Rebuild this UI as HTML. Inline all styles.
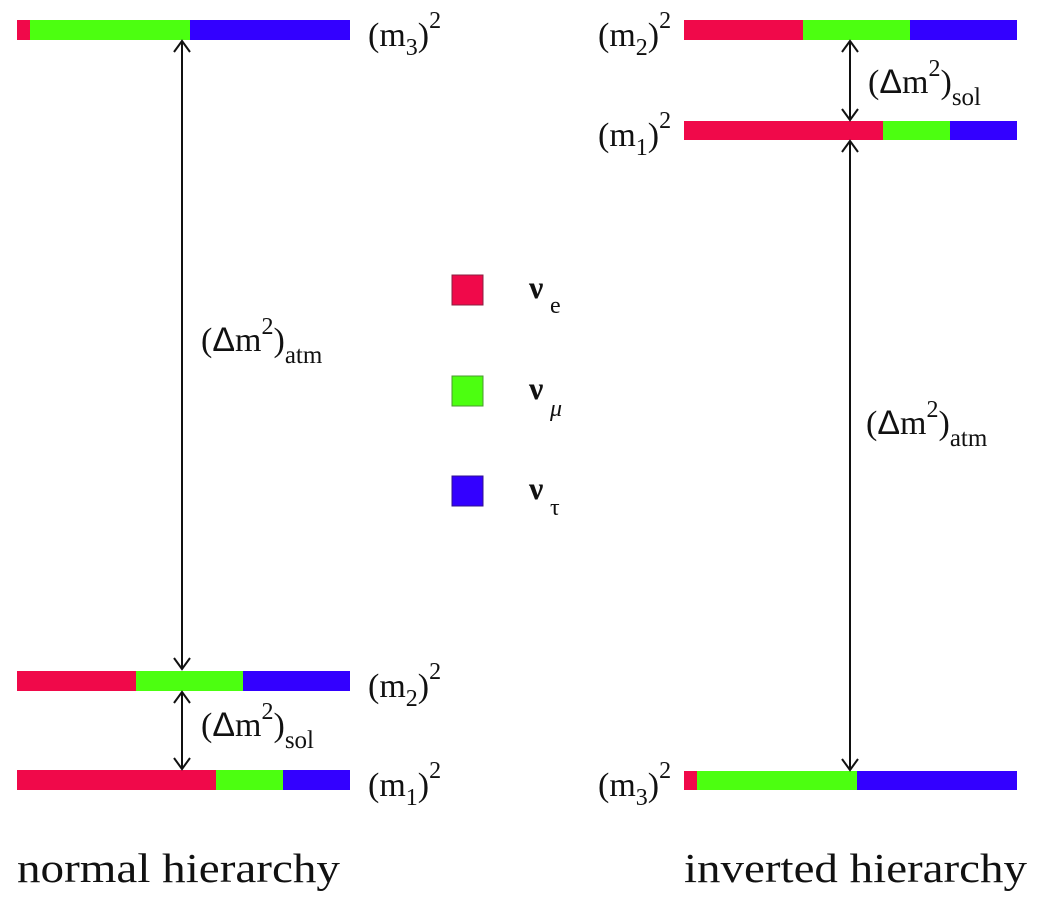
<!DOCTYPE html>
<html><head><meta charset="utf-8"><style>
html,body{margin:0;padding:0;background:#fff;}
svg{display:block;}
text{font-family:"Liberation Serif",serif;fill:#111;}
</style></head><body>
<svg width="1040" height="900" viewBox="0 0 1040 900" xmlns="http://www.w3.org/2000/svg">
<defs>
<g id="ah"><path d="M-8,11 L0,0 L8,11" fill="none" stroke="#111" stroke-width="2"/></g>
</defs>
<rect x="17" y="20" width="13" height="20" fill="#f0094a"/>
<rect x="30" y="20" width="160" height="20" fill="#4cff10"/>
<rect x="190" y="20" width="160" height="20" fill="#3300ff"/>
<rect x="17" y="671" width="119" height="20" fill="#f0094a"/>
<rect x="136" y="671" width="107" height="20" fill="#4cff10"/>
<rect x="243" y="671" width="107" height="20" fill="#3300ff"/>
<rect x="17" y="770" width="199" height="20" fill="#f0094a"/>
<rect x="216" y="770" width="67" height="20" fill="#4cff10"/>
<rect x="283" y="770" width="67" height="20" fill="#3300ff"/>
<rect x="684" y="20" width="119" height="20" fill="#f0094a"/>
<rect x="803" y="20" width="107" height="20" fill="#4cff10"/>
<rect x="910" y="20" width="107" height="20" fill="#3300ff"/>
<rect x="684" y="121" width="199" height="19" fill="#f0094a"/>
<rect x="883" y="121" width="67" height="19" fill="#4cff10"/>
<rect x="950" y="121" width="67" height="19" fill="#3300ff"/>
<rect x="684" y="771" width="13" height="19" fill="#f0094a"/>
<rect x="697" y="771" width="160" height="19" fill="#4cff10"/>
<rect x="857" y="771" width="160" height="19" fill="#3300ff"/>
<rect x="452" y="275" width="31" height="30" fill="#f0094a" stroke="#8a2040" stroke-width="1"/>
<rect x="452" y="376" width="31" height="30" fill="#4cff10" stroke="#4a9a30" stroke-width="1"/>
<rect x="452" y="476" width="31" height="30" fill="#3300ff" stroke="#301090" stroke-width="1"/>
<text x="529" y="298" font-size="32" font-weight="bold">ν</text><text x="550" y="313" font-size="24">e</text>
<text x="529" y="399" font-size="32" font-weight="bold">ν</text><text x="550" y="416" font-size="24" font-style="italic">μ</text>
<text x="529" y="499" font-size="32" font-weight="bold">ν</text><text x="550" y="515" font-size="24">τ</text>
<g stroke="#111" stroke-width="2">
<line x1="182" y1="41" x2="182" y2="669"/>
<line x1="182" y1="692" x2="182" y2="769"/>
<line x1="850" y1="41" x2="850" y2="120"/>
<line x1="850" y1="141" x2="850" y2="770"/>
</g>
<use href="#ah" transform="translate(182,41)"/>
<use href="#ah" transform="translate(182,669) rotate(180)"/>
<use href="#ah" transform="translate(182,692)"/>
<use href="#ah" transform="translate(182,769) rotate(180)"/>
<use href="#ah" transform="translate(850,41)"/>
<use href="#ah" transform="translate(850,120) rotate(180)"/>
<use href="#ah" transform="translate(850,141)"/>
<use href="#ah" transform="translate(850,770) rotate(180)"/>
<g font-size="34">
<text x="368" y="46">(m<tspan font-size="24" dy="9">3</tspan><tspan dy="-9">)</tspan><tspan font-size="24" dy="-18">2</tspan></text>
<text x="368" y="697">(m<tspan font-size="24" dy="9">2</tspan><tspan dy="-9">)</tspan><tspan font-size="24" dy="-18">2</tspan></text>
<text x="368" y="796">(m<tspan font-size="24" dy="9">1</tspan><tspan dy="-9">)</tspan><tspan font-size="24" dy="-18">2</tspan></text>
<text x="598" y="46">(m<tspan font-size="24" dy="9">2</tspan><tspan dy="-9">)</tspan><tspan font-size="24" dy="-18">2</tspan></text>
<text x="598" y="146">(m<tspan font-size="24" dy="9">1</tspan><tspan dy="-9">)</tspan><tspan font-size="24" dy="-18">2</tspan></text>
<text x="598" y="796">(m<tspan font-size="24" dy="9">3</tspan><tspan dy="-9">)</tspan><tspan font-size="24" dy="-18">2</tspan></text>
</g>
<g font-size="34">
<text x="201" y="351">(<tspan font-family="Liberation Sans">Δ</tspan>m<tspan font-size="24" dy="-17">2</tspan><tspan dy="17">)</tspan><tspan font-size="25" dy="12">atm</tspan></text>
<text x="201" y="736">(<tspan font-family="Liberation Sans">Δ</tspan>m<tspan font-size="24" dy="-17">2</tspan><tspan dy="17">)</tspan><tspan font-size="25" dy="12">sol</tspan></text>
<text x="868" y="93">(<tspan font-family="Liberation Sans">Δ</tspan>m<tspan font-size="24" dy="-17">2</tspan><tspan dy="17">)</tspan><tspan font-size="25" dy="12">sol</tspan></text>
<text x="866" y="434">(<tspan font-family="Liberation Sans">Δ</tspan>m<tspan font-size="24" dy="-17">2</tspan><tspan dy="17">)</tspan><tspan font-size="25" dy="12">atm</tspan></text>
</g>
<text x="17" y="882" font-size="41" textLength="323" lengthAdjust="spacingAndGlyphs">normal hierarchy</text>
<text x="684" y="882" font-size="41" textLength="343" lengthAdjust="spacingAndGlyphs">inverted hierarchy</text>
</svg>
</body></html>
